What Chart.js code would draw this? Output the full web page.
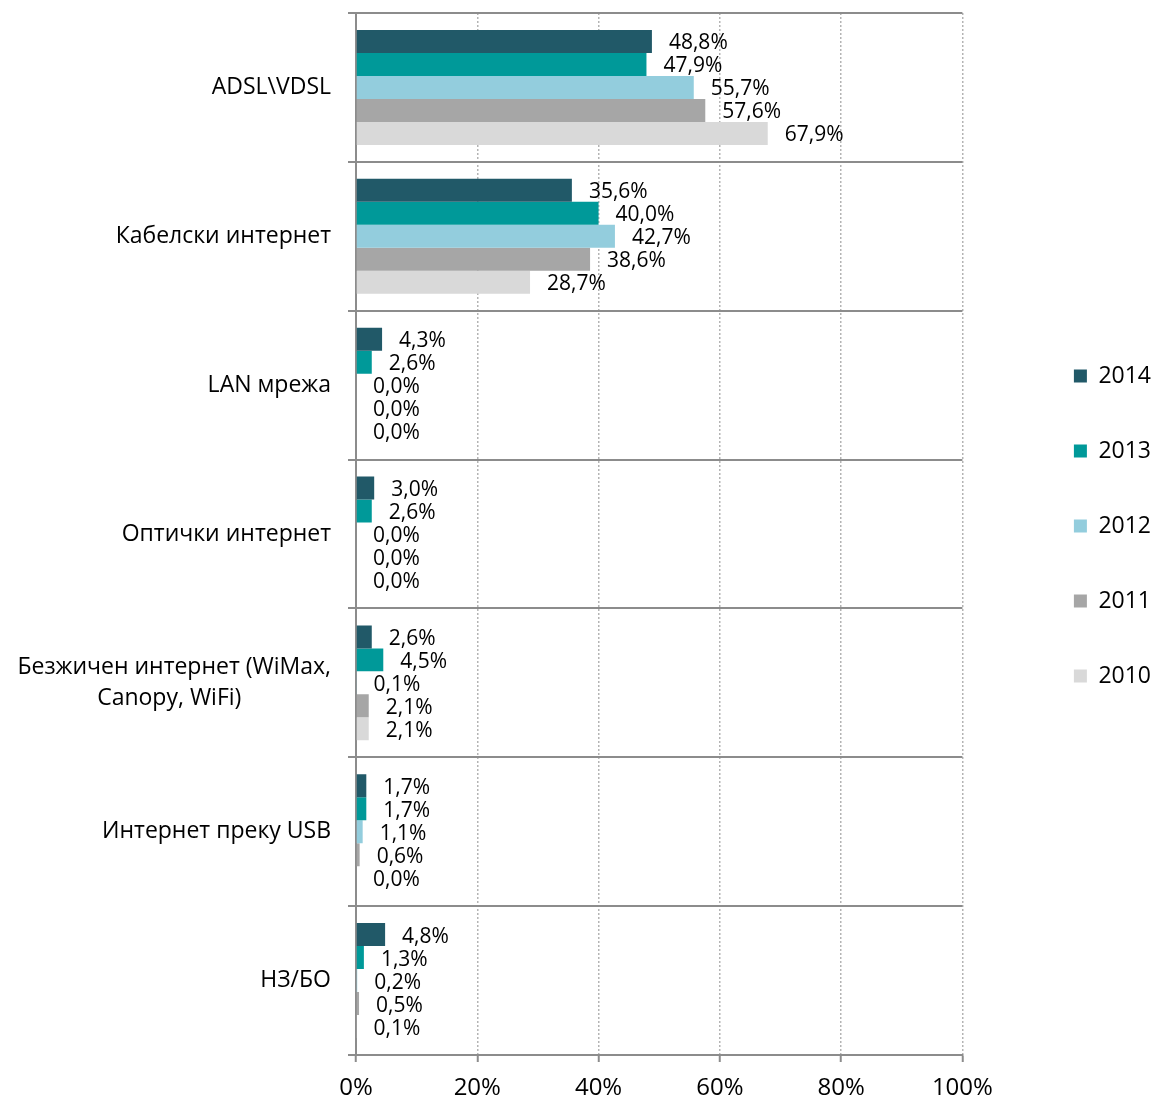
<!DOCTYPE html>
<html>
<head>
<meta charset="utf-8">
<script src="https://cdn.jsdelivr.net/npm/chart.js@4"></script>
<style>
  html, body { margin: 0; padding: 0; background: #fff; }
</style>
</head>
<body>
<canvas id="chart" width="1155" height="1101"></canvas>
<script>
// категории и серии по години
const categories = [
  'ADSL\\VDSL',
  'Кабелски интернет',
  'LAN мрежа',
  'Оптички интернет',
  ['Безжичен интернет (WiMax,', 'Canopy, WiFi)               '],
  'Интернет преку USB',
  'НЗ/БО'
];
const years = ['2014', '2013', '2012', '2011', '2010'];
const values2014 = [48.8, 35.6, 4.3, 3.0, 2.6, 1.7, 4.8];
const values2013 = [47.9, 40.0, 2.6, 2.6, 4.5, 1.7, 1.3];
const values2012 = [55.7, 42.7, 0.0, 0.0, 0.1, 1.1, 0.2];
const values2011 = [57.6, 38.6, 0.0, 0.0, 2.1, 0.6, 0.5];
const values2010 = [67.9, 28.7, 0.0, 0.0, 2.1, 0.0, 0.1];
const xTicks = [0, 20, 40, 60, 80, 100];

const colors = ['#215968', '#009999', '#93cddd', '#a6a6a6', '#d9d9d9'];
const series = [values2014, values2013, values2012, values2011, values2010];

const FONT = '"Open Sans", "DejaVu Sans", sans-serif';
const fmt = v => v.toFixed(1).replace('.', ',') + '%';

// вредности десно од секоја лента
const valueLabels = {
  id: 'valueLabels',
  afterDatasetsDraw(chart) {
    const ctx = chart.ctx;
    ctx.save();
    ctx.font = '21px ' + FONT;
    ctx.fillStyle = '#000';
    ctx.textAlign = 'left';
    ctx.textBaseline = 'middle';
    chart.data.datasets.forEach((ds, i) => {
      chart.getDatasetMeta(i).data.forEach((bar, j) => {
        ctx.fillText(fmt(ds.data[j]), bar.x + 17, bar.y + 2);
      });
    });
    ctx.restore();
  }
};

new Chart(document.getElementById('chart'), {
  type: 'bar',
  data: {
    labels: categories,
    datasets: years.map((y, i) => ({
      label: y,
      data: series[i],
      backgroundColor: colors[i],
      borderWidth: 0,
      categoryPercentage: 0.772,
      barPercentage: 1.0
    }))
  },
  options: {
    indexAxis: 'y',
    responsive: false,
    animation: false,
    devicePixelRatio: 1,
    layout: { padding: { top: 13, left: 0, right: -6, bottom: 0 } },
    plugins: {
      tooltip: { enabled: false },
      legend: {
        position: 'right',
        align: 'center',
        fullSize: false,
        // празен наслов само за поместување на ставките нагоре
        title: { display: true, text: '', font: { size: 0 }, padding: { top: -16, bottom: 0 } },
        labels: {
          boxWidth: 13,
          boxHeight: 13,
          padding: 52,
          color: '#000',
          font: { family: FONT, size: 23 }
        }
      }
    },
    scales: {
      x: {
        type: 'linear',
        min: 0,
        max: 100,
        afterBuildTicks: s => { s.ticks = xTicks.map(v => ({ value: v })); },
        ticks: {
          callback: v => v + '%',
          color: '#000',
          padding: 12,
          font: { family: FONT, size: 24 }
        },
        grid: {
          color: '#b4b4b4',
          lineWidth: 1.5,
          tickLength: 7,
          tickColor: '#8c8c8c',
          tickWidth: 2,
          tickBorderDash: []
        },
        border: { color: '#8c8c8c', width: 2, dash: [2, 2] },
        afterFit: s => { s.height = 46; }
      },
      y: {
        ticks: {
          color: '#000',
          padding: 17,
          font: { family: FONT, size: 23, lineHeight: 1.35 }
        },
        grid: {
          color: '#8c8c8c',
          lineWidth: 2,
          tickLength: 8
        },
        border: { color: '#8c8c8c', width: 2 },
        afterFit: s => {
          s.width = 356;
          s.paddingTop = 0;
          s.paddingBottom = 0;
        }
      },
      // празен простор меѓу графикот и легендата
      gap: {
        type: 'linear',
        position: 'right',
        grid: { display: false },
        ticks: { display: false },
        border: { display: false },
        afterFit: s => { s.width = 59.5; }
      }
    }
  },
  plugins: [valueLabels]
});
</script>
</body>
</html>
